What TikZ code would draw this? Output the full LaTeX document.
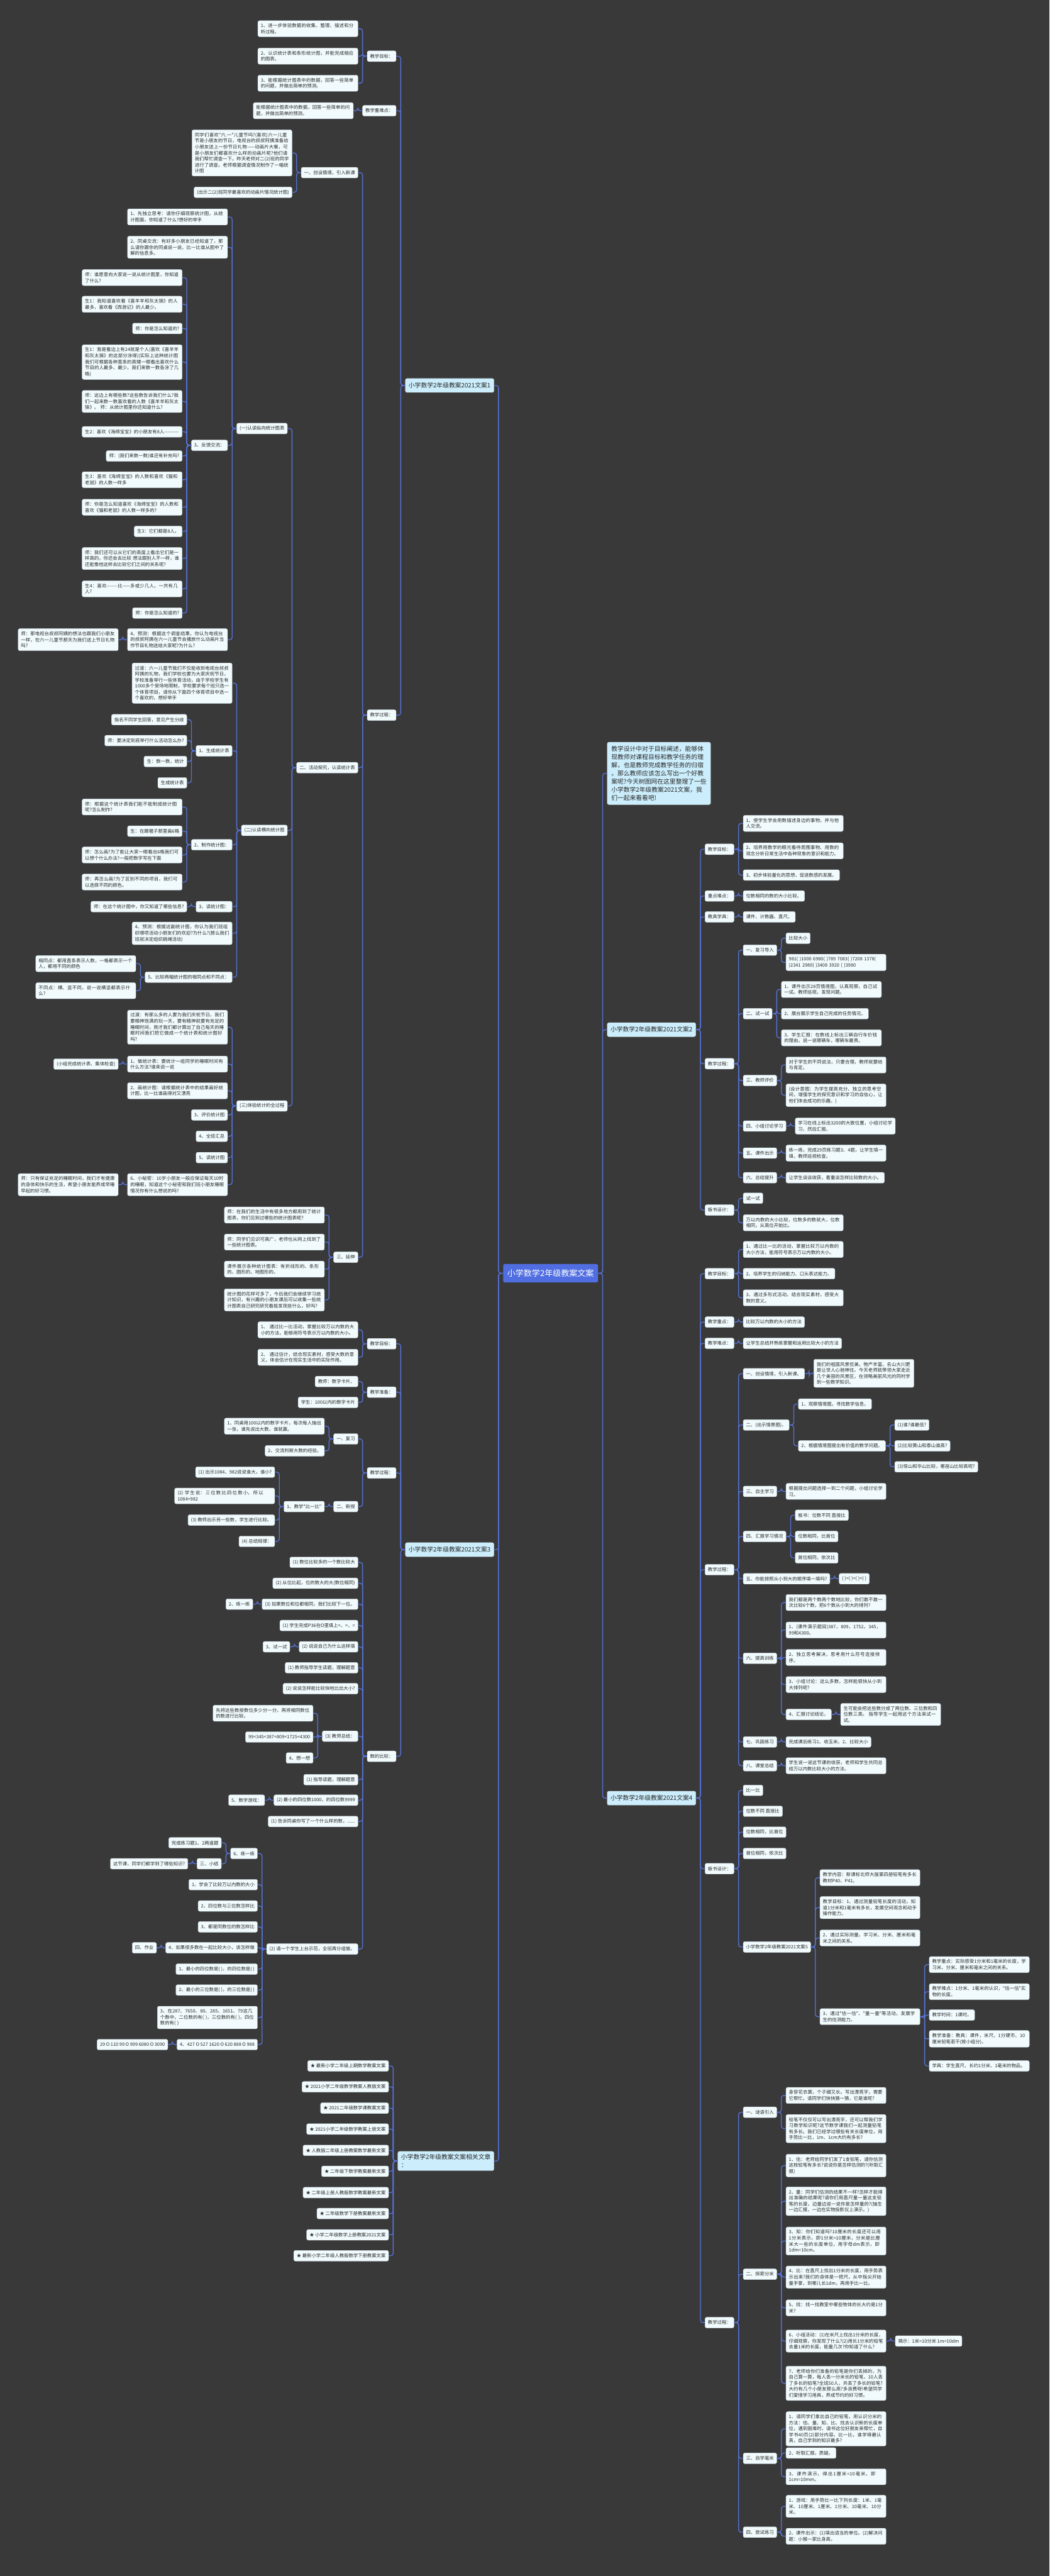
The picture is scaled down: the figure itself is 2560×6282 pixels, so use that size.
\documentclass[tikz,border=0pt]{standalone}
\usepackage{fontspec}
\newfontfamily\cjk[Ligatures=TeXOff]{Noto Sans CJK SC}
\XeTeXlinebreaklocale "zh"
\XeTeXlinebreakskip = 0pt plus 1pt
\usepackage{xcolor}
\usepackage{tikz}

\definecolor{bgc}{RGB}{58,57,58}
\definecolor{boxc}{RGB}{241,251,253}
\definecolor{edgec}{RGB}{205,222,228}
\definecolor{lonec}{RGB}{204,238,252}
\definecolor{rootc}{RGB}{80,110,225}
\definecolor{linkc}{RGB}{85,115,215}
\definecolor{inkc}{RGB}{40,40,40}

\tikzset{
  box/.style={fill=boxc,draw=edgec,line width=.3pt,rounded corners=2pt,text=inkc,
    font=\cjk\fontsize{5.65pt}{7.35pt}\selectfont,inner xsep=3.5pt,inner ysep=3.5pt,
    minimum height=13pt,align=left},
  para/.style={box,text width=115pt},
  lone/.style={box,fill=lonec,font=\cjk\fontsize{7.5pt}{10pt}\selectfont,
    minimum height=17pt,inner xsep=4pt},
  intro/.style={lone,inner xsep=5pt,inner ysep=4.5pt},
  root/.style={fill=rootc,text=white,rounded corners=2pt,font=\cjk\fontsize{10pt}{12pt}\selectfont,
    minimum height=22.5pt,inner xsep=5pt},
  link/.style={draw=linkc,line width=1pt,rounded corners=3pt}
}

% child on the left / right of its parent, at height #4
\newcommand{\lfork}[5][box]{%
  \path (#3.west) ++(-22,0) coordinate (t);
  \node[#1,anchor=east] (#2) at (t |- 0,#4) {#5};
  \draw[link] (#3.west) -- ++(-11,0) |- (#2.east);}
\newcommand{\rfork}[5][box]{%
  \path (#3.east) ++(22,0) coordinate (t);
  \node[#1,anchor=west] (#2) at (t |- 0,#4) {#5};
  \draw[link] (#3.east) -- ++(11,0) |- (#2.west);}

\begin{document}
\begin{tikzpicture}[x=0.5pt,y=-0.5pt]
\fill[bgc](0,0)rectangle(2560,6282);
\useasboundingbox(0,0)rectangle(2560,6282);

\node[root](root)at(1343,3105){小学数学2年级教案文案};

%% left: 文案1
\lfork[lone]{wa}{root}{940}{小学数学2年级教案2021文案1}
\lfork{wa1}{wa}{137}{教学目标：}
\lfork[para]{wa11}{wa1}{70}{1、进一步体验数据的收集、整理、描述和分析过程。}
\lfork[para]{wa12}{wa1}{137}{2、认识统计表和条形统计图，并能完成相应的图表。}
\lfork[para]{wa13}{wa1}{203}{3、能根据统计图表中的数据，回答一些简单的问题，并做出简单的预测。}
\lfork{wa2}{wa}{270}{教学重难点：}
\lfork[para]{wa21}{wa2}{270}{能根据统计图表中的数据，回答一些简单的问题，并做出简单的预测。}
\lfork{wa3}{wa}{1744}{教学过程：}
\lfork{p1}{wa3}{421}{一、创设情境，引入新课}
\lfork[para]{p11}{p1}{373}{同学们喜欢"六.一"儿童节吗?(喜欢)六一儿童节是小朋友的节日，电视台的叔叔阿姨准备给小朋友送上一份节日礼物——动画片大餐，可是小朋友们都喜欢什么样的动画片呢?他们请我们帮忙调查一下。昨天老师对二(2)班的同学进行了调查。老师根据调查情况制作了一幅统计图}
\lfork{p12}{p1}{469}{(出示二(2)班同学最喜欢的动画片情况统计图)}
\lfork{p2}{wa3}{1872}{二、活动探究，认读统计表}
\lfork{q1}{p2}{1045}{(一)认读纵向统计图表}
\lfork[para]{q11}{q1}{529}{1、先独立思考：请你仔细观察统计图，从统计图面，你知道了什么?想好的举手}
\lfork[para]{q12}{q1}{603}{2、同桌交流：有好多小朋友已经知道了，那么请你跟你的同桌说一说、比一比谁从图中了解的信息多。}
\lfork{q13}{q1}{1086}{3、反馈交流：}
\lfork[para]{r1}{q13}{677}{师：谁愿意向大家说一说从统计图里，你知道了什么?}
\lfork[para]{r2}{q13}{742}{生1：我知道喜欢看《喜羊羊和灰太狼》的人最多，喜欢看《西游记》的人最少。}
\lfork{r3}{q13}{801}{师：你是怎么知道的?}
\lfork[para]{r4}{q13}{883}{生1：我是看边上有24就是个人(喜欢《喜羊羊和灰太狼》的这部分涂得)(实际上这种统计图我们可根据各种直条的高矮一眼看出喜欢什么节目的人最多、最少。我们来数一数各涂了几格)}
\lfork[para]{r5}{q13}{979}{师：这边上有哪些数?这些数告诉我们什么?我们一起来数一数喜欢看的人数《喜羊羊和灰太狼》。 师：从统计图里你还知道什么?}
\lfork[para]{r6}{q13}{1053}{生2：喜欢《海绵宝宝》的小朋友有8人---------}
\lfork{r7}{q13}{1112}{师：(我们来数一数)谁还有补充吗?}
\lfork[para]{r8}{q13}{1170}{生3：喜欢《海绵宝宝》的人数和喜欢《猫和老鼠》的人数一样多}
\lfork[para]{r9}{q13}{1237}{师：你是怎么知道喜欢《海绵宝宝》的人数和喜欢《猫和老鼠》的人数一样多的?}
\lfork{r10}{q13}{1296}{生3：它们都是8人。}
\lfork[para]{r11}{q13}{1362}{师：我们还可以从它们的高度上看出它们是一样高的。你还会去比较 想法跟别人不一样，谁还能像他这样去比较它们之间的关系呢?}
\lfork[para]{r12}{q13}{1436}{生4：喜欢-------比——多或少几人，一共有几人?}
\lfork{r13}{q13}{1495}{师：你是怎么知道的?}
\lfork[para]{q14}{q1}{1560}{4、预测：根据这个调查结果，你认为电视台的叔叔阿姨在六一儿童节会播放什么动画片当作节目礼物送给大家呢?为什么?}
\lfork[para]{q141}{q14}{1560}{师：那电视台叔叔阿姨的想法也跟我们小朋友一样，在六一儿童节那天为我们送上节日礼物吗?}
\lfork{q2}{p2}{2025}{(二)认读横向统计图}
\lfork[para]{q21}{q2}{1666}{过渡：六一儿童节我们不仅能收到电视台叔叔阿姨的礼物，我们学校也要为大家庆祝节日，学校准备举行一些体育活动，由于学校学生有1000多个受场地限制，学校要求每个班只选一个体育项目，请你从下面四个体育项目中选一个喜欢的，想好举手}
\lfork{q22}{q2}{1831}{1、生成统计表}
\lfork{q221}{q22}{1755}{指名不同学生回答，意见产生分歧}
\lfork{q222}{q22}{1806}{师：要决定到底举行什么活动怎么办?}
\lfork{q223}{q22}{1857}{生：数一数，统计}
\lfork{q224}{q22}{1909}{生成统计表}
\lfork{q23}{q2}{2060}{2、制作统计图：}
\lfork[para]{q231}{q23}{1968}{师：根据这个统计表我们能不能制成统计图呢?怎么制作?}
\lfork{q232}{q23}{2027}{生：在踢毽子那里画6格}
\lfork[para]{q233}{q23}{2085}{师：怎么画?为了能让大家一眼看出6格我们可以想个什么办法?一般把数字写在下面}
\lfork[para]{q234}{q23}{2151}{师：再怎么画?为了区别不同的项目，我们可以选择不同的颜色。}
\lfork{q24}{q2}{2211}{3、读统计图：}
\lfork{q241}{q24}{2211}{师：在这个统计图中，你又知道了哪些信息?}
\lfork[para]{q25}{q2}{2276}{4、预测：根据这副统计图，你认为我们班组织哪项活动小朋友们的欢迎?为什么?(那么我们班就决定组织跳绳活动)}
\lfork{q26}{q2}{2383}{5、比较两幅统计图的相同点和不同点：}
\lfork[para]{q261}{q26}{2350}{相同点：都用直条表示人数，一格都表示一个人，都用不同的颜色}
\lfork[para]{q262}{q26}{2416}{不同点：横、竖不同，说一说横竖都表示什么?}
\lfork{q3}{p2}{2697}{(三)体验统计的全过程}
\lfork[para]{q31}{q3}{2505}{过渡：有那么多的人要为我们庆祝节日，我们要精神饱满的玩一天，要有精神就要有充足的睡眠时间，刚才我们都计算出了自己每天的睡眠时间我们把它做成一个统计表和统计图好吗?}
\lfork[para]{q32}{q3}{2595}{1、做统计表：要统计一组同学的睡眠时间有什么方法?谁来说一说}
\lfork{q321}{q32}{2595}{(小组完成统计表、集体检查)}
\lfork[para]{q33}{q3}{2660}{2、画统计图：请根据统计表中的结果画好统计图，比一比谁画得对又漂亮}
\lfork{q34}{q3}{2719}{3、评价统计图}
\lfork{q35}{q3}{2771}{4、全班汇总}
\lfork{q36}{q3}{2823}{5、读统计图}
\lfork[para]{q37}{q3}{2889}{6、小秘密：10岁小朋友一般应保证每天10时的睡眠，知道这个小秘密和我们班小朋友睡眠情况你有什么想说的吗?}
\lfork[para]{q371}{q37}{2889}{师：只有保证充足的睡眠时间，我们才有健康的身体和快乐的生活，希望小朋友能养成早睡早起的好习惯。}
\lfork{p3}{wa3}{3066}{三、延伸}
\lfork[para]{p31}{p3}{2963}{师：在我们的生活中有很多地方都用到了统计图表，你们见到过哪些的统计图表呢?}
\lfork[para]{p32}{p3}{3029}{师：同学们见识可真广，老师也从网上找到了一些统计图表。}
\lfork[para]{p33}{p3}{3095}{课件展示各种统计图表：有折线形的、条形的、圆形的、地图形的。}
\lfork[para]{p34}{p3}{3170}{统计图的花样可多了，今后我们会继续学习统计知识，有兴趣的小朋友课后可以收集一些统计图表自己研究研究看能发现些什么，好吗?}

%% left: 文案3
\lfork[lone]{wc}{root}{3779}{小学数学2年级教案2021文案3}
\lfork{wc1}{wc}{3277}{教学目标：}
\lfork[para]{wc11}{wc1}{3243}{1、 通过比一比活动，掌握比较万以内数的大小的方法，能够用符号表示万以内数的大小。}
\lfork[para]{wc12}{wc1}{3310}{2、 通过估计，结合现实素材，感受大数的意义，体会估计在现实生活中的实际作用。}
\lfork{wc2}{wc}{3395}{教学准备：}
\lfork{wc21}{wc2}{3369}{教师：数字卡片、}
\lfork{wc22}{wc2}{3420}{学生：100以内的数字卡片}
\lfork{wc3}{wc}{3592}{教学过程：}
\lfork{wc31}{wc3}{3509}{一、复习}
\lfork[para]{wc311}{wc31}{3478}{1、同桌用100以内的数字卡片，每次每人抽出一张，谁先说出大数，谁就赢。}
\lfork{wc312}{wc31}{3538}{2、交流判断大数的经验。}
\lfork{wc32}{wc3}{3674}{二、新授}
\lfork{wc321}{wc32}{3674}{1、教学"比一比"}
\lfork{s1}{wc321}{3590}{(1) 出示1084、982说说谁大，谁小?}
\lfork[para]{s2}{wc321}{3648}{(2) 学生说：三位数比四位数小，所以1084>982}
\lfork{s3}{wc321}{3707}{(3) 教师出示另一些数，学生进行比较。}
\lfork{s4}{wc321}{3759}{(4) 总结规律：}
\lfork{wc4}{wc}{4283}{数的比较：}
\lfork{u1}{wc4}{3810}{(1) 数位比较多的一个数比较大}
\lfork{u2}{wc4}{3861}{(2) 从位比起，位的数大的大(数位相同)}
\lfork{u3}{wc4}{3912}{(3) 如果数位和位都相同，我们比较下一位。}
\lfork{u31}{u3}{3912}{2、练一练}
\lfork{u4}{wc4}{3964}{(1) 学生完成P36在O里填上<、>、=}
\lfork{u5}{wc4}{4016}{(2) 说说自己为什么这样填}
\lfork{u51}{u5}{4016}{3、试一试}
\lfork{u6}{wc4}{4067}{(1) 教师指导学生读题，理解题意}
\lfork{u7}{wc4}{4118}{(2) 说说怎样能比较快地比出大小?}
\lfork{u8}{wc4}{4234}{(3) 教师总结：}
\lfork[para]{u81}{u8}{4178}{先将这些数按数位多少分一分，再将相同数位的数进行比较。}
\lfork{u82}{u8}{4236}{99<345<387<809<1725<4300}
\lfork{u83}{u8}{4287}{4、想一想}
\lfork{u9}{wc4}{4340}{(1) 指导读题，理解题意}
\lfork{u10}{wc4}{4390}{(2) 最小的四位数1000，的四位数9999}
\lfork{u101}{u10}{4390}{5、数学游戏：}
\lfork{u11}{wc4}{4442}{(1) 告诉同桌你写了一个什么样的数，......}
\lfork{u12}{wc4}{4753}{(2) 请一个学生上台示范，全班再分组做。}
\lfork{v1}{u12}{4520}{6、练一练}
\lfork{v11}{v1}{4494}{完成练习题1、2两道题}
\lfork{v12}{v1}{4545}{三、小结}
\lfork{v121}{v12}{4545}{这节课，同学们都学到了哪些知识?}
\lfork{v2}{u12}{4596}{1、学会了比较万以内数的大小}
\lfork{v3}{u12}{4648}{2、四位数与三位数怎样比}
\lfork{v4}{u12}{4699}{3、都是同数位的数怎样比}
\lfork{v5}{u12}{4750}{4、如果很多数在一起比较大小，该怎样做}
\lfork{v51}{v5}{4750}{四、作业}
\lfork{v6}{u12}{4802}{1、最小的四位数是( )，的四位数是( )}
\lfork{v7}{u12}{4853}{2、最小的三位数是( )，的三位数是( )}
\lfork[para]{v8}{u12}{4920}{3、在287、7650、80、285、1651、79这几个数中，二位数的有( )，三位数的有( )，四位数的有( )}
\lfork{v9}{u12}{4986}{4、427 O 527 1620 O 620 888 O 988}
\lfork{v91}{v9}{4986}{29 O 110 99 O 999 6080 O 3090}

%% left: 相关文章
\lfork[lone]{wx}{root}{5270}{小学数学2年级教案文案相关文章\\：}
\lfork{x1}{wx}{5038}{★ 最新小学二年级上期数学教案文案}
\lfork{x2}{wx}{5089}{★ 2021小学二年级数学教案人教版文案}
\lfork{x3}{wx}{5141}{★ 2021二年级数学课教案文案}
\lfork{x4}{wx}{5192}{★ 2021小学二年级数学教案上册文案}
\lfork{x5}{wx}{5244}{★ 人教版二年级上册教案数学最新文案}
\lfork{x6}{wx}{5295}{★ 二年级下数学教案最新文案}
\lfork{x7}{wx}{5347}{★ 二年级上册人教版数学教案最新文案}
\lfork{x8}{wx}{5398}{★ 二年级数学下册教案最新文案}
\lfork{x9}{wx}{5450}{★ 小学二年级数学上册教案2021文案}
\lfork{x10}{wx}{5501}{★ 最新小学二年级人教版数学下册教案文案}

%% right: intro and 文案2
\rfork[intro]{intro}{root}{1886}{教学设计中对于目标阐述，能够体\\现教师对课程目标和教学任务的理\\解，也是教师完成教学任务的归宿\\。那么教师应该怎么写出一个好教\\案呢?今天树图网在这里整理了一些\\小学数学2年级教案2021文案，我\\们一起来看看吧!}
\rfork[lone]{wb}{root}{2511}{小学数学2年级教案2021文案2}
\rfork{wb1}{wb}{2071}{教学目标：}
\rfork[para]{wb11}{wb1}{2008}{1、使学生学会用数描述身边的事物，并与他人交流。}
\rfork[para]{wb12}{wb1}{2075}{2、培养用数学的眼光看待周围事物、用数的观念分析日常生活中各种现象的意识和能力。}
\rfork{wb13}{wb1}{2134}{3、初步体验量化的思想，促进数感的发展。}
\rfork{wb2}{wb}{2185}{重点难点：}
\rfork{wb21}{wb2}{2185}{位数相同的数的大小比较。}
\rfork{wb3}{wb}{2236}{教具学具：}
\rfork{wb31}{wb3}{2236}{课件、计数器、直尺。}
\rfork{wb4}{wb}{2594}{教学过程：}
\rfork{wb41}{wb4}{2317}{一、复习导入}
\rfork{wb411}{wb41}{2288}{比较大小}
\rfork[para]{wb412}{wb41}{2347}{981( )1000 6980( )789 7083( )7208 1378( )2341 2980( )3408 3920 ( )3980}
\rfork{wb42}{wb4}{2472}{二、试一试}
\rfork[para]{wb421}{wb42}{2413}{1、课件出示28页情境图，认真观察，自己试一试。教师巡视，发现问题。}
\rfork{wb422}{wb42}{2472}{2、展台展示学生自己完成的任务情况。}
\rfork[para]{wb423}{wb42}{2531}{3、学生汇报：在数线上标出三辆自行车价钱的理由，说一说哪辆车，哪辆车最贵。}
\rfork{wb43}{wb4}{2635}{三、教师评价}
\rfork[para]{wb431}{wb43}{2597}{对于学生的不同说法，只要合理，教师就要给与肯定。}
\rfork[para]{wb432}{wb43}{2671}{(设计意图：为学生提高充分、独立的思考空间，增强学生的探究意识和学习的自信心，让他们体会成功的乐趣。)}
\rfork{wb44}{wb4}{2746}{四、小组讨论学习}
\rfork[para]{wb441}{wb44}{2746}{学习在线上标出3200的大致位置，小组讨论学习，然后汇报。}
\rfork{wb45}{wb4}{2812}{五、课件出示}
\rfork[para]{wb451}{wb45}{2812}{练一练，完成29页练习题3、4题，让学生填一填，教师巡视检查。}
\rfork{wb46}{wb4}{2872}{六、总结提升}
\rfork{wb461}{wb46}{2872}{让学生谈谈收获，着重谈怎样比较数的大小。}
\rfork{wb5}{wb}{2951}{板书设计：}
\rfork{wb51}{wb5}{2922}{试一试}
\rfork[para]{wb52}{wb5}{2982}{万以内数的大小比较，位数多的数就大，位数相同，从高位开始比。}

%% right: 文案4
\rfork[lone]{wd}{root}{4385}{小学数学2年级教案2021文案4}
\rfork{wd1}{wd}{3106}{教学目标：}
\rfork[para]{wd11}{wd1}{3047}{1、通过比一比的活动，掌握比较万以内数的大小方法，能用符号表示万以内数的大小。}
\rfork{wd12}{wd1}{3106}{2、培养学生的归纳能力、口头表达能力。}
\rfork[para]{wd13}{wd1}{3165}{3、通过多形式活动，结合现实素材，感受大数的意义。}
\rfork{wd2}{wd}{3224}{教学重点：}
\rfork{wd21}{wd2}{3224}{比较万以内数的大小的方法}
\rfork{wd3}{wd}{3276}{教学难点：}
\rfork{wd31}{wd3}{3276}{让学生总结并熟练掌握和运用比较大小的方法}
\rfork{wd4}{wd}{3828}{教学过程：}
\rfork{wd41}{wd4}{3350}{一、创设情境，引入新课。}
\rfork[para]{wd411}{wd41}{3349}{我们的祖国风景优美，物产丰富。名山大川更是让世人心驰神往。今天老师就带领大家走近几个美丽的风景区，在领略美丽风光的同时学到一些数学知识。}
\rfork{wd42}{wd4}{3475}{二、(出示情景图)。}
\rfork{wd421}{wd42}{3424}{1、观察情境图，寻找数学信息。}
\rfork{wd422}{wd42}{3526}{2、根据情境图提出有价值的数学问题。}
\rfork{wd4221}{wd422}{3475}{(1)谁?谁最低?}
\rfork{wd4222}{wd422}{3526}{(2)比较黄山和泰山谁高?}
\rfork{wd4223}{wd422}{3577}{(3)恒山和华山比较，哪座山比较高呢?}
\rfork{wd43}{wd4}{3637}{三、自主学习}
\rfork[para]{wd431}{wd43}{3637}{根据提出问题选择一到二个问题，小组讨论学习。}
\rfork{wd44}{wd4}{3747}{四、汇报学习情况}
\rfork{wd441}{wd44}{3695}{板书：位数不同 直接比}
\rfork{wd442}{wd44}{3747}{位数相同，比首位}
\rfork{wd443}{wd44}{3799}{首位相同，依次比}
\rfork{wd45}{wd4}{3850}{五、你能按照从小到大的顺序填一填吗?}
\rfork{wd451}{wd45}{3850}{( )<( )<( )<( )}
\rfork{wd46}{wd4}{4044}{六、提高训练}
\rfork[para]{wd461}{wd46}{3908}{我们都是两个数两个数地比较，你们敢不敢一次比较6个数，把6个数从小到大的排列?}
\rfork[para]{wd462}{wd46}{3975}{1、(课件演示题目)387，809，1752，345，99和4300。}
\rfork[para]{wd463}{wd46}{4042}{2、独立思考解决，思考用什么符号连接排序。}
\rfork[para]{wd464}{wd46}{4108}{3、小组讨论：这么多数，怎样能很快从小到大排列呢?}
\rfork{wd465}{wd46}{4181}{4、汇报讨论结论。}
\rfork[para]{wd4651}{wd465}{4181}{生可能会把这些数分成了两位数、三位数和四位数三类。 指导学生一起用这个方法来试一试。}
\rfork{wd47}{wd4}{4248}{七、巩固练习}
\rfork{wd471}{wd47}{4248}{完成课后练习1、收玉米。2、比较大小}
\rfork{wd48}{wd4}{4306}{八、课堂总结}
\rfork[para]{wd481}{wd48}{4306}{学生说一说这节课的收获，老师和学生共同总结万以内数比较大小的方法。}
\rfork{wd5}{wd}{4557}{板书设计：}
\rfork{wd51}{wd5}{4366}{比一比}
\rfork{wd52}{wd5}{4417}{位数不同 直接比}
\rfork{wd53}{wd5}{4468}{位数相同，比首位}
\rfork{wd54}{wd5}{4520}{首位相同，依次比}
\rfork{wd55}{wd5}{4748}{小学数学2年级教案2021文案5}
\rfork[para]{wd551}{wd55}{4579}{教学内容：新课标北师大版第四册铅笔有多长教材P40、P41。}
\rfork[para]{wd552}{wd55}{4652}{教学目标：1、通过测量铅笔长度的活动，知道1分米和1毫米有多长，发展空间观念和动手操作能力。}
\rfork[para]{wd553}{wd55}{4726}{2、通过实际测量，学习米、分米、厘米和毫米之间的关系。}
\rfork[para]{wd554}{wd55}{4918}{3、通过"估一估"、"量一量"等活动，发展学生的估测能力。}
\rfork[para]{wd5541}{wd554}{4791}{教学重点：实际感受1分米和1毫米的长度，学习米、分米、厘米和毫米之间的关系。}
\rfork[para]{wd5542}{wd554}{4857}{教学难点：1分米、1毫米的认识，"估一估"实物的长度。}
\rfork{wd5543}{wd554}{4914}{教学时间：1课时。}
\rfork[para]{wd5544}{wd554}{4972}{教学准备：教具：课件，米尺、1分硬币、10厘米铅笔若干(按小组分)。}
\rfork[para]{wd5545}{wd554}{5038}{学具：学生直尺、长约1分米、1毫米的物品。}
\rfork{wd6}{wd}{5664}{教学过程：}
\rfork{wd61}{wd6}{5151}{一、谜语引入}
\rfork[para]{wd611}{wd61}{5110}{身穿花衣裳，个子细又长。写出漂亮字，需要它帮忙。请同学们快快猜一猜，它是谁呢?}
\rfork[para]{wd612}{wd61}{5191}{铅笔不仅仅可以写出漂亮字，还可以帮我们学习数学知识呢?这节数学课我们一起测量铅笔有多长。我们已经学过哪些有关长度单位，用手势比一比，1m、1cm大约有多长?}
\rfork{wd62}{wd6}{5546}{二、探索分米}
\rfork[para]{wd621}{wd62}{5281}{1、估：老师给同学们发了1支铅笔，请你估测这枝铅笔有多长?说说你是怎样估测的?(听取汇报)}
\rfork[para]{wd622}{wd62}{5368}{2、量：同学们估测的结果不一样?怎样才能得出准确的结果呢?请你们用直尺量一量这支铅笔的长度，边量边说一说你是怎样量的?(抽生一边汇报，一边在实物投影仪上演示。)}
\rfork[para]{wd623}{wd62}{5465}{3、知：你们知道吗?10厘米的长度还可以用1分米表示，即1分米=10厘米，分米是比厘米大一些的长度单位，用字母dm表示，即1dm=10cm。}
\rfork[para]{wd624}{wd62}{5553}{4、比：在直尺上找出1分米的长度，用手势表示出来?我们的身体是一把尺，从中指尖开始量手掌，到哪儿长1dm，再用手比一比。}
\rfork[para]{wd625}{wd62}{5628}{5、找：找一找教室中哪些物体的长大约是1分米?}
\rfork[para]{wd626}{wd62}{5709}{6、小组活动：(1)在米尺上找出1分米的长度，仔细观察，你发现了什么?(2)用长1分米的铅笔去量1米的长度，能量几次?你知道了什么?}
\rfork{wd6261}{wd626}{5709}{揭示：1米=10分米 1m=10dm}
\rfork[para]{wd627}{wd62}{5812}{7、老师给你们准备的铅笔是你们丢掉的，为自己算一算，每人丢一分米长的铅笔，10人丢了多长的铅笔?全班50人，共丢了多长的铅笔?大约有几个小朋友那么高?多浪费呀!希望同学们爱惜学习用具，养成节约的好习惯。}
\rfork{wd63}{wd6}{5995}{三、自学毫米}
\rfork[para]{wd631}{wd63}{5923}{1、请同学们拿出自己的铅笔，用认识分米的方法：估、量、知、比、找去认识新的长度单位，遇到困难时，请书这位好朋友来帮忙，自学书40页(2)部分内容。比一比，谁学得最认真，自己学到的知识最多?}
\rfork{wd632}{wd63}{5982}{2、听取汇报，质疑。}
\rfork[para]{wd633}{wd63}{6040}{3、课件演示，得出1厘米=10毫米，即1cm=10mm。}
\rfork{wd64}{wd6}{6175}{四、尝试练习}
\rfork[para]{wd641}{wd64}{6112}{1、游戏：用手势比一比下列长度：1米、1毫米、10厘米、1厘米、1分米、10毫米、10分米。}
\rfork[para]{wd642}{wd64}{6185}{2、课件出示：(1)填出适当的单位。(2)解决问题：小猴一家比身高。}
\end{tikzpicture}
\end{document}
